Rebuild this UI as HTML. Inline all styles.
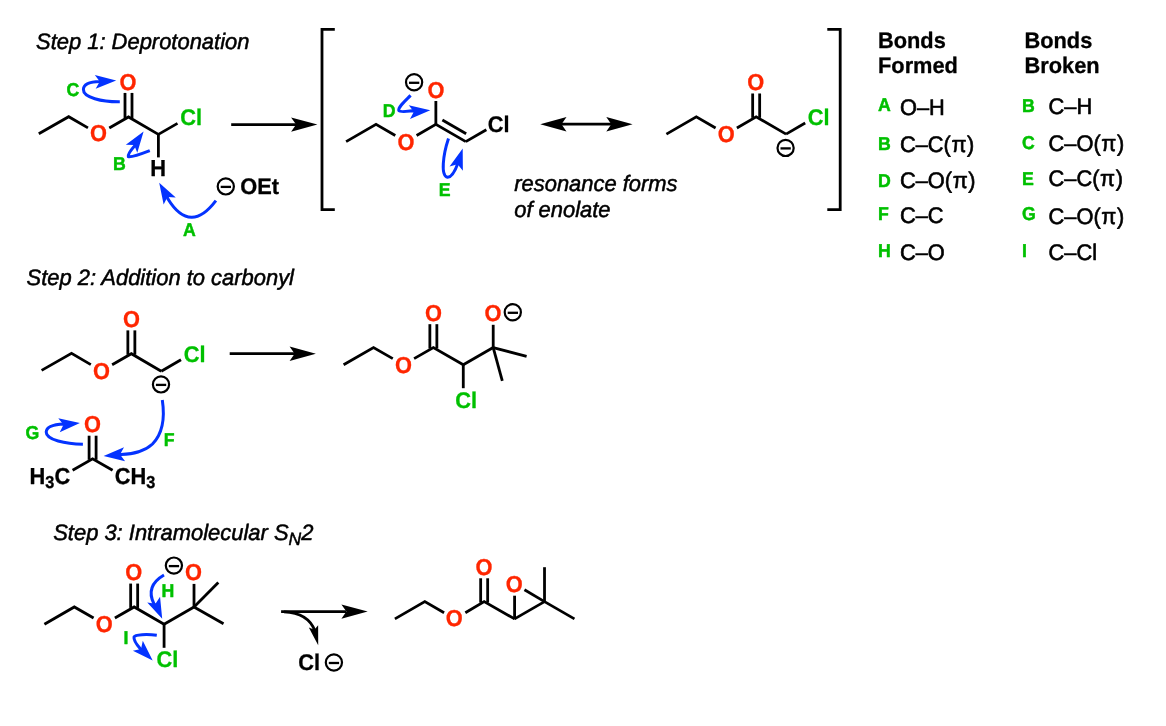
<!DOCTYPE html>
<html><head><meta charset="utf-8"><title>Darzens mechanism</title>
<style>
html,body{margin:0;padding:0;background:#fff;}
body{width:1166px;height:726px;overflow:hidden;}
svg{display:block;font-family:"Liberation Sans",sans-serif;}
svg{will-change:transform;}
text{text-rendering:geometricPrecision;stroke-linejoin:round;}
</style></head>
<body>
<svg width="1166" height="726" viewBox="0 0 1166 726">
<rect width="1166" height="726" fill="#fff"/>
<text transform="translate(36.00,48.60) scale(1,1.015)" font-size="21.95" fill="#000" stroke="#000" stroke-width="0.5" font-weight="normal" font-style="italic" text-anchor="start">Step 1: Deprotonation</text>
<text transform="translate(26.50,285.00) scale(1,1.015)" font-size="21.95" fill="#000" stroke="#000" stroke-width="0.5" font-weight="normal" font-style="italic" text-anchor="start">Step 2: Addition to carbonyl</text>
<text transform="translate(53.2,540.4) scale(1,1.015)" font-size="21.95" font-style="italic" stroke="#000" stroke-width="0.5">Step 3: Intramolecular S<tspan font-size="17.5" dy="5.0">N</tspan><tspan dy="-5.0">2</tspan></text>
<text transform="translate(514.20,191.30) scale(1,1.015)" font-size="21.95" fill="#000" stroke="#000" stroke-width="0.5" font-weight="normal" font-style="italic" text-anchor="start">resonance forms</text>
<text transform="translate(514.20,216.70) scale(1,1.015)" font-size="21.95" fill="#000" stroke="#000" stroke-width="0.5" font-weight="normal" font-style="italic" text-anchor="start">of enolate</text>
<polyline points="38.80,133.80 68.70,116.68 87.97,127.91" fill="none" stroke="#000" stroke-width="2.8" stroke-linejoin="miter" stroke-linecap="butt"/>
<polyline points="109.27,127.99 128.50,116.98 158.40,134.40" fill="none" stroke="#000" stroke-width="2.8" stroke-linejoin="miter" stroke-linecap="butt"/>
<text transform="translate(89.92,141.48) scale(1,1.06)" font-size="21.8" fill="#ff2600" stroke="#ff2600" stroke-width="0.3" font-weight="bold" font-style="normal" text-anchor="start">O</text>
<text transform="translate(119.52,90.20) scale(1,1.06)" font-size="21.8" fill="#ff2600" stroke="#ff2600" stroke-width="0.3" font-weight="bold" font-style="normal" text-anchor="start">O</text>
<line x1="125.00" y1="92.93" x2="125.00" y2="117.98" stroke="#000" stroke-width="2.8" stroke-linecap="butt"/>
<line x1="132.00" y1="92.93" x2="132.00" y2="117.98" stroke="#000" stroke-width="2.8" stroke-linecap="butt"/>
<line x1="158.40" y1="134.40" x2="177.50" y2="123.38" stroke="#000" stroke-width="2.8" stroke-linecap="butt"/>
<text transform="translate(180.15,125.10) scale(1,1.04)" font-size="21.8" fill="#00c000" stroke="#00c000" stroke-width="0.3" font-weight="bold" font-style="normal" text-anchor="start">Cl</text>
<line x1="158.40" y1="133.40" x2="158.40" y2="157.40" stroke="#000" stroke-width="2.8" stroke-linecap="butt"/>
<text transform="translate(150.13,175.93) scale(1,1.06)" font-size="21.8" fill="#000" stroke="#000" stroke-width="0.3" font-weight="bold" font-style="normal" text-anchor="start">H</text>
<line x1="231.20" y1="124.60" x2="296.00" y2="124.60" stroke="#000" stroke-width="2.8" stroke-linecap="butt"/>
<path d="M317.40,124.60 L291.10,131.80 L296.10,124.60 L291.10,117.40 Z" fill="#000"/>
<circle cx="225.80" cy="186.40" r="8.1" fill="none" stroke="#000" stroke-width="2.2"/>
<line x1="220.70" y1="186.90" x2="231.00" y2="186.90" stroke="#000" stroke-width="2.3" stroke-linecap="butt"/>
<text transform="translate(240.20,194.00) scale(1,1.03)" font-size="21.8" fill="#000" stroke="#000" stroke-width="0.3" font-weight="bold" font-style="normal" text-anchor="start">OEt</text>
<path d="M119.8,101.8 C102,102 83.2,97.5 83.4,89.5 C83.6,83 92,81.8 100,81.6 L101.73,81.49" fill="none" stroke="#0433ff" stroke-width="3.0" stroke-linecap="butt"/>
<path d="M116.20,80.60 L95.67,88.87 L99.73,81.61 L94.81,74.90 Z" fill="#0433ff"/>
<text transform="translate(66.40,95.90) scale(1,1.05)" font-size="17.7" fill="#00c000" stroke="#00c000" stroke-width="0.45" font-weight="bold" font-style="normal" text-anchor="start">C</text>
<path d="M149.8,150.6 C141,154 131,157.5 128.3,156.6 C127.5,154 131,150 134.5,146 L135.28,143.38" fill="none" stroke="#0433ff" stroke-width="3.0" stroke-linecap="butt"/>
<path d="M143.60,131.50 L137.29,152.72 L134.14,145.02 L125.82,144.69 Z" fill="#0433ff"/>
<text transform="translate(113.00,169.60) scale(1,1.05)" font-size="17.7" fill="#00c000" stroke="#00c000" stroke-width="0.45" font-weight="bold" font-style="normal" text-anchor="start">B</text>
<path d="M215.9,200.6 C208,211 200,217.5 191.5,217.3 C182,217 173.5,208 168,199 L166.45,195.36" fill="none" stroke="#0433ff" stroke-width="3.0" stroke-linecap="butt"/>
<path d="M159.20,182.80 L175.76,197.49 L167.45,197.09 L163.64,204.49 Z" fill="#0433ff"/>
<text transform="translate(183.00,236.20) scale(1,1.05)" font-size="17.7" fill="#00c000" stroke="#00c000" stroke-width="0.45" font-weight="bold" font-style="normal" text-anchor="start">A</text>
<polyline points="334.80,29.40 322.00,29.40 322.00,209.60 334.80,209.60" fill="none" stroke="#000" stroke-width="2.8" stroke-linejoin="miter" stroke-linecap="butt"/>
<polyline points="827.30,29.40 840.20,29.40 840.20,209.60 827.30,209.60" fill="none" stroke="#000" stroke-width="2.8" stroke-linejoin="miter" stroke-linecap="butt"/>
<polyline points="346.10,141.60 376.02,124.33 395.29,135.45" fill="none" stroke="#000" stroke-width="2.8" stroke-linejoin="miter" stroke-linecap="butt"/>
<polyline points="416.59,135.45 435.86,124.33 465.78,141.60" fill="none" stroke="#000" stroke-width="2.8" stroke-linejoin="miter" stroke-linecap="butt"/>
<text transform="translate(397.46,149.58) scale(1,1.06)" font-size="21.8" fill="#ff2600" stroke="#ff2600" stroke-width="0.3" font-weight="bold" font-style="normal" text-anchor="start">O</text>
<text transform="translate(427.38,97.75) scale(1,1.06)" font-size="21.8" fill="#ff2600" stroke="#ff2600" stroke-width="0.3" font-weight="bold" font-style="normal" text-anchor="start">O</text>
<line x1="435.86" y1="100.98" x2="435.86" y2="124.83" stroke="#000" stroke-width="2.8" stroke-linecap="butt"/>
<line x1="442.39" y1="120.01" x2="466.17" y2="133.74" stroke="#000" stroke-width="2.8" stroke-linecap="butt"/>
<line x1="465.78" y1="141.60" x2="486.35" y2="129.72" stroke="#000" stroke-width="2.8" stroke-linecap="butt"/>
<text transform="translate(487.64,132.00) scale(1,1.04)" font-size="21.8" fill="#000" stroke="#000" stroke-width="0.3" font-weight="bold" font-style="normal" text-anchor="start">Cl</text>
<circle cx="414.10" cy="82.30" r="8.1" fill="none" stroke="#000" stroke-width="2.2"/>
<line x1="409.00" y1="82.80" x2="419.30" y2="82.80" stroke="#000" stroke-width="2.3" stroke-linecap="butt"/>
<path d="M410.6,95.4 C405,101 398,107 398.8,110.5 C400,112.5 406,111.5 412,110.8 L415.86,111.56" fill="none" stroke="#0433ff" stroke-width="3.0" stroke-linecap="butt"/>
<path d="M430.30,110.30 L409.99,119.10 L413.86,111.74 L408.77,105.16 Z" fill="#0433ff"/>
<text transform="translate(382.70,117.10) scale(1,1.05)" font-size="17.7" fill="#00c000" stroke="#00c000" stroke-width="0.45" font-weight="bold" font-style="normal" text-anchor="start">D</text>
<path d="M448.5,138.6 C443,155 440.5,176 447.5,177.2 C452,177.5 455.5,170 458,163 L458.22,162.39" fill="none" stroke="#0433ff" stroke-width="3.0" stroke-linecap="butt"/>
<path d="M462.70,148.60 L462.87,170.74 L457.60,164.29 L449.55,166.41 Z" fill="#0433ff"/>
<text transform="translate(438.70,195.60) scale(1,1.05)" font-size="17.7" fill="#00c000" stroke="#00c000" stroke-width="0.45" font-weight="bold" font-style="normal" text-anchor="start">E</text>
<line x1="560.00" y1="124.20" x2="612.00" y2="124.20" stroke="#000" stroke-width="2.8" stroke-linecap="butt"/>
<path d="M540.20,124.20 L566.50,117.00 L561.50,124.20 L566.50,131.40 Z" fill="#000"/>
<path d="M632.60,124.20 L606.30,131.40 L611.30,124.20 L606.30,117.00 Z" fill="#000"/>
<polyline points="666.40,134.10 696.32,116.83 715.59,127.95" fill="none" stroke="#000" stroke-width="2.8" stroke-linejoin="miter" stroke-linecap="butt"/>
<polyline points="736.89,127.95 756.16,116.83 786.08,134.10" fill="none" stroke="#000" stroke-width="2.8" stroke-linejoin="miter" stroke-linecap="butt"/>
<text transform="translate(717.76,141.68) scale(1,1.06)" font-size="21.8" fill="#ff2600" stroke="#ff2600" stroke-width="0.3" font-weight="bold" font-style="normal" text-anchor="start">O</text>
<text transform="translate(747.28,89.75) scale(1,1.06)" font-size="21.8" fill="#ff2600" stroke="#ff2600" stroke-width="0.3" font-weight="bold" font-style="normal" text-anchor="start">O</text>
<line x1="752.66" y1="93.48" x2="752.66" y2="117.83" stroke="#000" stroke-width="2.8" stroke-linecap="butt"/>
<line x1="759.66" y1="93.48" x2="759.66" y2="117.83" stroke="#000" stroke-width="2.8" stroke-linecap="butt"/>
<line x1="786.08" y1="134.10" x2="805.18" y2="123.08" stroke="#000" stroke-width="2.8" stroke-linecap="butt"/>
<text transform="translate(807.74,124.80) scale(1,1.04)" font-size="21.8" fill="#00c000" stroke="#00c000" stroke-width="0.3" font-weight="bold" font-style="normal" text-anchor="start">Cl</text>
<circle cx="785.60" cy="147.90" r="8.1" fill="none" stroke="#000" stroke-width="2.2"/>
<line x1="780.50" y1="148.40" x2="790.80" y2="148.40" stroke="#000" stroke-width="2.3" stroke-linecap="butt"/>
<text transform="translate(878.00,48.10) scale(1,1.03)" font-size="21.8" fill="#000" stroke="#000" stroke-width="0.3" font-weight="bold" font-style="normal" text-anchor="start">Bonds</text>
<text transform="translate(878.00,73.20) scale(1,1.03)" font-size="21.8" fill="#000" stroke="#000" stroke-width="0.3" font-weight="bold" font-style="normal" text-anchor="start">Formed</text>
<text transform="translate(1024.50,48.10) scale(1,1.03)" font-size="21.8" fill="#000" stroke="#000" stroke-width="0.3" font-weight="bold" font-style="normal" text-anchor="start">Bonds</text>
<text transform="translate(1024.50,73.20) scale(1,1.03)" font-size="21.8" fill="#000" stroke="#000" stroke-width="0.3" font-weight="bold" font-style="normal" text-anchor="start">Broken</text>
<text transform="translate(877.90,111.00) scale(1,1.05)" font-size="17.7" fill="#00c000" stroke="#00c000" stroke-width="0.45" font-weight="bold" font-style="normal" text-anchor="start">A</text>
<text transform="translate(900.00,114.70) scale(1,1.035)" font-size="21.8" fill="#000" stroke="#000" stroke-width="0.6" font-weight="normal" font-style="normal" text-anchor="start">O–H</text>
<text transform="translate(877.90,150.30) scale(1,1.05)" font-size="17.7" fill="#00c000" stroke="#00c000" stroke-width="0.45" font-weight="bold" font-style="normal" text-anchor="start">B</text>
<text transform="translate(900.00,151.70) scale(1,1.035)" font-size="21.8" fill="#000" stroke="#000" stroke-width="0.6" font-weight="normal" font-style="normal" text-anchor="start">C–C(<tspan dx="0.6">π</tspan><tspan dx="0.6">)</tspan></text>
<text transform="translate(877.90,187.00) scale(1,1.05)" font-size="17.7" fill="#00c000" stroke="#00c000" stroke-width="0.45" font-weight="bold" font-style="normal" text-anchor="start">D</text>
<text transform="translate(900.00,188.20) scale(1,1.035)" font-size="21.8" fill="#000" stroke="#000" stroke-width="0.6" font-weight="normal" font-style="normal" text-anchor="start">C–O(<tspan dx="0.6">π</tspan><tspan dx="0.6">)</tspan></text>
<text transform="translate(877.90,220.20) scale(1,1.05)" font-size="17.7" fill="#00c000" stroke="#00c000" stroke-width="0.45" font-weight="bold" font-style="normal" text-anchor="start">F</text>
<text transform="translate(900.00,223.40) scale(1,1.035)" font-size="21.8" fill="#000" stroke="#000" stroke-width="0.6" font-weight="normal" font-style="normal" text-anchor="start">C–C</text>
<text transform="translate(877.90,257.30) scale(1,1.05)" font-size="17.7" fill="#00c000" stroke="#00c000" stroke-width="0.45" font-weight="bold" font-style="normal" text-anchor="start">H</text>
<text transform="translate(900.00,259.50) scale(1,1.035)" font-size="21.8" fill="#000" stroke="#000" stroke-width="0.6" font-weight="normal" font-style="normal" text-anchor="start">C–O</text>
<text transform="translate(1022.00,112.40) scale(1,1.05)" font-size="17.7" fill="#00c000" stroke="#00c000" stroke-width="0.45" font-weight="bold" font-style="normal" text-anchor="start">B</text>
<text transform="translate(1048.60,113.60) scale(1,1.035)" font-size="21.8" fill="#000" stroke="#000" stroke-width="0.6" font-weight="normal" font-style="normal" text-anchor="start">C–H</text>
<text transform="translate(1022.00,149.30) scale(1,1.05)" font-size="17.7" fill="#00c000" stroke="#00c000" stroke-width="0.45" font-weight="bold" font-style="normal" text-anchor="start">C</text>
<text transform="translate(1048.60,150.70) scale(1,1.035)" font-size="21.8" fill="#000" stroke="#000" stroke-width="0.6" font-weight="normal" font-style="normal" text-anchor="start">C–O(<tspan dx="0.6">π</tspan><tspan dx="0.6">)</tspan></text>
<text transform="translate(1022.00,185.10) scale(1,1.05)" font-size="17.7" fill="#00c000" stroke="#00c000" stroke-width="0.45" font-weight="bold" font-style="normal" text-anchor="start">E</text>
<text transform="translate(1048.60,185.70) scale(1,1.035)" font-size="21.8" fill="#000" stroke="#000" stroke-width="0.6" font-weight="normal" font-style="normal" text-anchor="start">C–C(<tspan dx="0.6">π</tspan><tspan dx="0.6">)</tspan></text>
<text transform="translate(1022.00,220.00) scale(1,1.05)" font-size="17.7" fill="#00c000" stroke="#00c000" stroke-width="0.45" font-weight="bold" font-style="normal" text-anchor="start">G</text>
<text transform="translate(1048.60,223.70) scale(1,1.035)" font-size="21.8" fill="#000" stroke="#000" stroke-width="0.6" font-weight="normal" font-style="normal" text-anchor="start">C–O(<tspan dx="0.6">π</tspan><tspan dx="0.6">)</tspan></text>
<text transform="translate(1022.00,257.10) scale(1,1.05)" font-size="17.7" fill="#00c000" stroke="#00c000" stroke-width="0.45" font-weight="bold" font-style="normal" text-anchor="start">I</text>
<text transform="translate(1048.60,259.50) scale(1,1.035)" font-size="21.8" fill="#000" stroke="#000" stroke-width="0.6" font-weight="normal" font-style="normal" text-anchor="start">C–Cl</text>
<polyline points="41.60,370.40 71.52,353.32 90.82,364.60" fill="none" stroke="#000" stroke-width="2.8" stroke-linejoin="miter" stroke-linecap="butt"/>
<polyline points="112.13,364.70 131.36,353.73 161.28,371.20" fill="none" stroke="#000" stroke-width="2.8" stroke-linejoin="miter" stroke-linecap="butt"/>
<text transform="translate(92.96,378.78) scale(1,1.06)" font-size="21.8" fill="#ff2600" stroke="#ff2600" stroke-width="0.3" font-weight="bold" font-style="normal" text-anchor="start">O</text>
<text transform="translate(122.88,327.15) scale(1,1.06)" font-size="21.8" fill="#ff2600" stroke="#ff2600" stroke-width="0.3" font-weight="bold" font-style="normal" text-anchor="start">O</text>
<line x1="127.86" y1="330.38" x2="127.86" y2="354.73" stroke="#000" stroke-width="2.8" stroke-linecap="butt"/>
<line x1="134.86" y1="330.38" x2="134.86" y2="354.73" stroke="#000" stroke-width="2.8" stroke-linecap="butt"/>
<line x1="161.28" y1="371.20" x2="180.99" y2="359.82" stroke="#000" stroke-width="2.8" stroke-linecap="butt"/>
<text transform="translate(183.64,362.10) scale(1,1.04)" font-size="21.8" fill="#00c000" stroke="#00c000" stroke-width="0.3" font-weight="bold" font-style="normal" text-anchor="start">Cl</text>
<circle cx="161.00" cy="384.40" r="8.1" fill="none" stroke="#000" stroke-width="2.2"/>
<line x1="155.90" y1="384.90" x2="166.20" y2="384.90" stroke="#000" stroke-width="2.3" stroke-linecap="butt"/>
<line x1="229.70" y1="353.70" x2="295.00" y2="353.70" stroke="#000" stroke-width="2.8" stroke-linecap="butt"/>
<path d="M315.90,353.70 L289.60,360.90 L294.60,353.70 L289.60,346.50 Z" fill="#000"/>
<line x1="89.10" y1="435.70" x2="89.10" y2="459.80" stroke="#000" stroke-width="2.8" stroke-linecap="butt"/>
<line x1="96.10" y1="435.70" x2="96.10" y2="459.80" stroke="#000" stroke-width="2.8" stroke-linecap="butt"/>
<text transform="translate(84.12,432.28) scale(1,1.06)" font-size="21.8" fill="#ff2600" stroke="#ff2600" stroke-width="0.3" font-weight="bold" font-style="normal" text-anchor="start">O</text>
<polyline points="72.60,470.30 92.60,458.80 112.60,470.30" fill="none" stroke="#000" stroke-width="2.8" stroke-linejoin="miter" stroke-linecap="butt"/>
<text transform="translate(29.6,483.6) scale(1,1.06)" font-size="21.8" font-weight="bold" stroke="#000" stroke-width="0.3">H<tspan font-size="16.3" dy="4.2">3</tspan><tspan dy="-4.2">C</tspan></text>
<text transform="translate(114.7,483.6) scale(1,1.06)" font-size="21.8" font-weight="bold" stroke="#000" stroke-width="0.3">CH<tspan font-size="16.3" dy="4.2">3</tspan></text>
<path d="M82.9,444.3 C66,444 46,440 46.2,432 C46.5,425.5 56,424.3 64,424 L65.48,424.52" fill="none" stroke="#0433ff" stroke-width="3.0" stroke-linecap="butt"/>
<path d="M79.90,423.00 L59.75,432.16 L63.49,424.72 L58.28,418.23 Z" fill="#0433ff"/>
<text transform="translate(25.60,439.20) scale(1,1.05)" font-size="17.7" fill="#00c000" stroke="#00c000" stroke-width="0.45" font-weight="bold" font-style="normal" text-anchor="start">G</text>
<path d="M162.3,399.9 C164.6,415 164,432 152.5,444 C144,452 133,453.8 121,454.6 L118.06,454.76" fill="none" stroke="#0433ff" stroke-width="3.0" stroke-linecap="butt"/>
<path d="M103.60,455.90 L123.99,447.27 L120.05,454.61 L125.08,461.23 Z" fill="#0433ff"/>
<text transform="translate(163.80,446.00) scale(1,1.05)" font-size="17.7" fill="#00c000" stroke="#00c000" stroke-width="0.45" font-weight="bold" font-style="normal" text-anchor="start">F</text>
<polyline points="343.60,364.80 373.52,347.53 392.79,358.65" fill="none" stroke="#000" stroke-width="2.8" stroke-linejoin="miter" stroke-linecap="butt"/>
<polyline points="414.09,358.65 433.36,347.53 463.28,364.80" fill="none" stroke="#000" stroke-width="2.8" stroke-linejoin="miter" stroke-linecap="butt"/>
<text transform="translate(394.96,372.78) scale(1,1.06)" font-size="21.8" fill="#ff2600" stroke="#ff2600" stroke-width="0.3" font-weight="bold" font-style="normal" text-anchor="start">O</text>
<text transform="translate(424.88,320.95) scale(1,1.06)" font-size="21.8" fill="#ff2600" stroke="#ff2600" stroke-width="0.3" font-weight="bold" font-style="normal" text-anchor="start">O</text>
<line x1="429.86" y1="324.18" x2="429.86" y2="348.53" stroke="#000" stroke-width="2.8" stroke-linecap="butt"/>
<line x1="436.86" y1="324.18" x2="436.86" y2="348.53" stroke="#000" stroke-width="2.8" stroke-linecap="butt"/>
<line x1="463.28" y1="363.80" x2="463.28" y2="388.20" stroke="#000" stroke-width="2.8" stroke-linecap="butt"/>
<text transform="translate(455.21,407.98) scale(1,1.04)" font-size="21.8" fill="#00c000" stroke="#00c000" stroke-width="0.3" font-weight="bold" font-style="normal" text-anchor="start">Cl</text>
<polyline points="463.28,364.80 493.21,347.53" fill="none" stroke="#000" stroke-width="2.8" stroke-linejoin="miter" stroke-linecap="butt"/>
<line x1="493.21" y1="348.03" x2="493.21" y2="324.80" stroke="#000" stroke-width="2.8" stroke-linecap="butt"/>
<text transform="translate(484.43,320.95) scale(1,1.06)" font-size="21.8" fill="#ff2600" stroke="#ff2600" stroke-width="0.3" font-weight="bold" font-style="normal" text-anchor="start">O</text>
<line x1="493.21" y1="347.53" x2="526.60" y2="356.40" stroke="#000" stroke-width="2.8" stroke-linecap="butt"/>
<line x1="493.21" y1="347.53" x2="502.30" y2="380.80" stroke="#000" stroke-width="2.8" stroke-linecap="butt"/>
<circle cx="512.80" cy="312.30" r="8.1" fill="none" stroke="#000" stroke-width="2.2"/>
<line x1="507.70" y1="312.80" x2="518.00" y2="312.80" stroke="#000" stroke-width="2.3" stroke-linecap="butt"/>
<polyline points="44.40,624.20 74.32,606.93 93.59,618.05" fill="none" stroke="#000" stroke-width="2.8" stroke-linejoin="miter" stroke-linecap="butt"/>
<polyline points="114.89,618.05 134.16,606.93 164.08,624.20" fill="none" stroke="#000" stroke-width="2.8" stroke-linejoin="miter" stroke-linecap="butt"/>
<text transform="translate(95.76,632.18) scale(1,1.06)" font-size="21.8" fill="#ff2600" stroke="#ff2600" stroke-width="0.3" font-weight="bold" font-style="normal" text-anchor="start">O</text>
<text transform="translate(125.28,579.95) scale(1,1.06)" font-size="21.8" fill="#ff2600" stroke="#ff2600" stroke-width="0.3" font-weight="bold" font-style="normal" text-anchor="start">O</text>
<line x1="130.66" y1="583.58" x2="130.66" y2="607.93" stroke="#000" stroke-width="2.8" stroke-linecap="butt"/>
<line x1="137.66" y1="583.58" x2="137.66" y2="607.93" stroke="#000" stroke-width="2.8" stroke-linecap="butt"/>
<line x1="164.08" y1="623.20" x2="164.08" y2="647.80" stroke="#000" stroke-width="2.8" stroke-linecap="butt"/>
<text transform="translate(156.51,666.98) scale(1,1.04)" font-size="21.8" fill="#00c000" stroke="#00c000" stroke-width="0.3" font-weight="bold" font-style="normal" text-anchor="start">Cl</text>
<polyline points="164.08,624.20 194.01,606.93" fill="none" stroke="#000" stroke-width="2.8" stroke-linejoin="miter" stroke-linecap="butt"/>
<line x1="194.01" y1="607.43" x2="194.01" y2="583.90" stroke="#000" stroke-width="2.8" stroke-linecap="butt"/>
<text transform="translate(185.03,579.95) scale(1,1.06)" font-size="21.8" fill="#ff2600" stroke="#ff2600" stroke-width="0.3" font-weight="bold" font-style="normal" text-anchor="start">O</text>
<line x1="194.01" y1="606.93" x2="218.30" y2="582.50" stroke="#000" stroke-width="2.8" stroke-linecap="butt"/>
<line x1="194.01" y1="606.93" x2="223.50" y2="623.80" stroke="#000" stroke-width="2.8" stroke-linecap="butt"/>
<circle cx="173.90" cy="565.60" r="8.1" fill="none" stroke="#000" stroke-width="2.2"/>
<line x1="168.80" y1="566.10" x2="179.10" y2="566.10" stroke="#000" stroke-width="2.3" stroke-linecap="butt"/>
<path d="M164.0,575.0 C152,582 148,592 154,604 L156.30,605.55" fill="none" stroke="#0433ff" stroke-width="3.0" stroke-linecap="butt"/>
<path d="M162.20,618.80 L147.26,602.46 L155.49,603.73 L160.05,596.77 Z" fill="#0433ff"/>
<text transform="translate(161.60,596.80) scale(1,1.05)" font-size="17.7" fill="#00c000" stroke="#00c000" stroke-width="0.45" font-weight="bold" font-style="normal" text-anchor="start">H</text>
<path d="M156.8,635.3 C147,634 135,634.5 134.0,637 C133.5,640 137,645 140.5,649 L142.45,650.35" fill="none" stroke="#0433ff" stroke-width="3.0" stroke-linecap="butt"/>
<path d="M152.70,660.60 L132.90,650.70 L141.03,648.93 L142.80,640.80 Z" fill="#0433ff"/>
<text transform="translate(123.60,643.60) scale(1,1.05)" font-size="17.7" fill="#00c000" stroke="#00c000" stroke-width="0.45" font-weight="bold" font-style="normal" text-anchor="start">I</text>
<line x1="281.10" y1="611.60" x2="346.00" y2="611.60" stroke="#000" stroke-width="2.8" stroke-linecap="butt"/>
<path d="M367.70,611.60 L341.40,618.80 L346.40,611.60 L341.40,604.40 Z" fill="#000"/>
<path d="M284,611.8 C302,612.5 311,620 315.0,631 L315.6,633" fill="none" stroke="#000" stroke-width="2.8" stroke-linecap="butt"/>
<path d="M318.20,645.30 L308.83,627.54 L314.33,629.78 L318.14,625.22 Z" fill="#000"/>
<text transform="translate(298.30,669.50) scale(1,1.04)" font-size="21.8" fill="#000" stroke="#000" stroke-width="0.3" font-weight="bold" font-style="normal" text-anchor="start">Cl</text>
<circle cx="333.90" cy="662.50" r="8.1" fill="none" stroke="#000" stroke-width="2.2"/>
<line x1="328.80" y1="663.00" x2="339.10" y2="663.00" stroke="#000" stroke-width="2.3" stroke-linecap="butt"/>
<polyline points="394.90,618.90 424.82,601.62 444.09,612.75" fill="none" stroke="#000" stroke-width="2.8" stroke-linejoin="miter" stroke-linecap="butt"/>
<polyline points="465.35,612.67 484.16,601.62 514.58,618.90" fill="none" stroke="#000" stroke-width="2.8" stroke-linejoin="miter" stroke-linecap="butt"/>
<text transform="translate(445.86,626.48) scale(1,1.06)" font-size="21.8" fill="#ff2600" stroke="#ff2600" stroke-width="0.3" font-weight="bold" font-style="normal" text-anchor="start">O</text>
<text transform="translate(475.48,574.65) scale(1,1.06)" font-size="21.8" fill="#ff2600" stroke="#ff2600" stroke-width="0.3" font-weight="bold" font-style="normal" text-anchor="start">O</text>
<line x1="480.66" y1="578.28" x2="480.66" y2="602.62" stroke="#000" stroke-width="2.8" stroke-linecap="butt"/>
<line x1="487.66" y1="578.28" x2="487.66" y2="602.62" stroke="#000" stroke-width="2.8" stroke-linecap="butt"/>
<polyline points="514.58,618.90 544.51,601.62" fill="none" stroke="#000" stroke-width="2.8" stroke-linejoin="miter" stroke-linecap="butt"/>
<text transform="translate(505.80,591.83) scale(1,1.06)" font-size="21.8" fill="#ff2600" stroke="#ff2600" stroke-width="0.3" font-weight="bold" font-style="normal" text-anchor="start">O</text>
<line x1="514.58" y1="619.40" x2="514.58" y2="595.70" stroke="#000" stroke-width="2.8" stroke-linecap="butt"/>
<line x1="524.46" y1="589.83" x2="544.51" y2="601.62" stroke="#000" stroke-width="2.8" stroke-linecap="butt"/>
<line x1="544.51" y1="602.12" x2="544.51" y2="567.20" stroke="#000" stroke-width="2.8" stroke-linecap="butt"/>
<line x1="544.51" y1="601.62" x2="574.43" y2="618.90" stroke="#000" stroke-width="2.8" stroke-linecap="butt"/>
</svg>
</body></html>
